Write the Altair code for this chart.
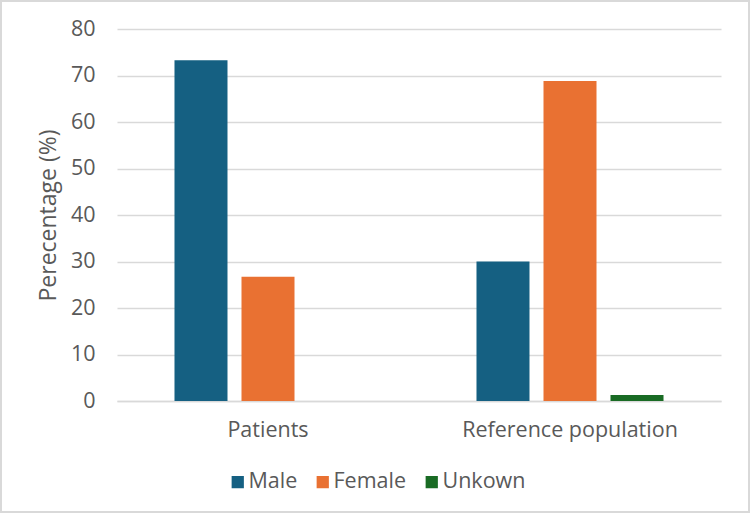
import altair as alt
import pandas as pd

categories = ["Patients", "Reference population"]
series = ["Male", "Female", "Unkown"]
male = [73.3, 30.0]
female = [26.7, 68.8]
unknown = [0.0, 1.3]
colors = ["#156082", "#E97132", "#196B24"]

rows = []
for i, c in enumerate(categories):
    for s, vals in zip(series, [male, female, unknown]):
        rows.append({"group": c, "sex": s, "value": vals[i]})
df = pd.DataFrame(rows)

FONT = "Open Sans"
TXT = "#595959"
FS = 21.5

bars = alt.Chart(df).mark_bar().encode(
    x=alt.X("group:N", sort=categories, title=None,
            scale=alt.Scale(paddingInner=0, paddingOuter=0),
            axis=alt.Axis(labelAngle=0, labelFontSize=FS, labelColor=TXT, labelFont=FONT,
                          domainColor="#d9d9d9", domainWidth=1.3, ticks=False,
                          labelPadding=18, labelLimit=1000, grid=False)),
    xOffset=alt.XOffset("sex:N", sort=series,
                        scale=alt.Scale(paddingInner=0.209, paddingOuter=0.858)),
    y=alt.Y("value:Q", title="Perecentage (%)",
            scale=alt.Scale(domain=[0, 80]),
            axis=alt.Axis(values=[0, 10, 20, 30, 40, 50, 60, 70, 80], labelFontSize=FS,
                          labelColor=TXT, labelFont=FONT, titleFont=FONT, titleFontSize=23,
                          titleColor=TXT, titleFontWeight="normal", titlePadding=10,
                          domain=False, ticks=False, labelPadding=22,
                          gridColor="#d9d9d9", gridWidth=1.3)),
    color=alt.Color("sex:N", sort=series,
                    scale=alt.Scale(domain=series, range=colors),
                    legend=alt.Legend(title=None, orient="none", direction="horizontal",
                                      legendX=110, legendY=442, padding=0,
                                      symbolType="square",
                                      symbolSize=150, symbolStrokeWidth=0,
                                      labelFontSize=FS, labelColor=TXT, labelFont=FONT,
                                      columnPadding=14, labelOffset=0, labelLimit=1000,
                                      symbolOpacity=1)),
)

border = alt.Chart(pd.DataFrame({"a": [0]})).mark_rect(
    fill=None, stroke="#d9d9d9", strokeWidth=2
).encode(x=alt.value(-116), x2=alt.value(632), y=alt.value(-28), y2=alt.value(483))

chart = alt.layer(border, bars).properties(
    width=604, height=372,
    autosize=alt.AutoSizeParams(type="none"),
    padding={"left": 117, "top": 29, "right": 29, "bottom": 112},
    background="white",
).configure_view(stroke=None)

chart.save("out.html", embed_options={"renderer": "svg", "actions": False})
